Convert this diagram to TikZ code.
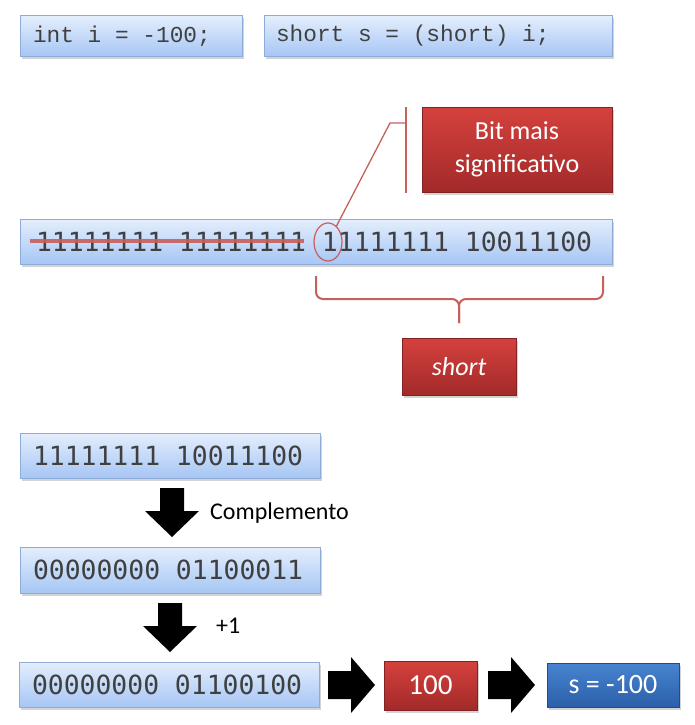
\documentclass[tikz,border=0pt]{standalone}
\usepackage{fontspec}
\setmainfont{Carlito}
\newfontfamily\codefont{Liberation Mono}
\newfontfamily\bitfont{DejaVu Sans Mono}
\usetikzlibrary{shadows,shapes.geometric}
\newcommand\msp{\hspace*{0.6em}}
\definecolor{bluetop}{HTML}{E4EEFD}
\definecolor{bluebot}{HTML}{A6C6F4}
\definecolor{boxedge}{HTML}{8FACD9}
\definecolor{codetext}{HTML}{404040}
\definecolor{redtop}{HTML}{D5413D}
\definecolor{redbot}{HTML}{A22A2A}
\definecolor{bluetopd}{HTML}{4784D0}
\definecolor{bluebotd}{HTML}{2C5FA9}
\definecolor{callred}{HTML}{C75F5B}
\tikzset{
  shadowed/.style={drop shadow={opacity=0.35,shadow xshift=1.5pt,shadow yshift=-2.5pt}},
  bluebox/.style={draw=boxedge, line width=0.8pt, top color=bluetop, bottom color=bluebot,
    shadowed, text=codetext, align=left, inner ysep=0pt},
  redbox/.style={draw=redbot!80!black, line width=0.5pt, top color=redtop, bottom color=redbot,
    shadowed, text=white, align=center, inner sep=0pt, font=\fontsize{26}{33}\selectfont},
  darkbluebox/.style={draw=bluebotd!80!black, line width=0.5pt, top color=bluetopd, bottom color=bluebotd,
    shadowed, text=white, align=center, inner sep=0pt, font=\fontsize{28}{33}\selectfont},
  codefnt/.style={font=\codefont\fontsize{22.8}{26}\selectfont},
  bitfnt/.style={font=\bitfont\fontsize{26.4}{30}\selectfont},
  callline/.style={draw=callred, line width=1.3pt},
  bracestyle/.style={draw=callred, line width=2pt, rounded corners=7pt},
  lbl/.style={font=\fontsize{24}{28}\selectfont, text=black, inner sep=0pt, anchor=west},
  downarr/.pic={\fill[black] (-12,0) -- (12,0) -- (12,23) -- (27,23) -- (0,49) -- (-27,23) -- (-12,23) -- cycle;},
  rightarr/.pic={\fill[black] (0,-14) -- (23,-14) -- (23,-28) -- (47,0) -- (23,28) -- (23,14) -- (0,14) -- cycle;}
}
\begin{document}
\begin{tikzpicture}[x=1pt,y=-1pt]
\useasboundingbox (0,0) rectangle (695,725);
% top code boxes
\node[bluebox, codefnt, minimum height=41pt, text width=196pt, inner xsep=13pt] (b1) at (131,36) {int\msp i\msp =\msp -100;};
\node[bluebox, codefnt, minimum height=41pt, text width=324pt, inner xsep=12pt] (b2) at (438,36) {short\msp s\msp =\msp (short)\msp i;};
% long int box
\node[bluebox, bitfnt, minimum height=45pt, text width=560pt, inner xsep=16pt] (long) at (316,241.5) {11111111\msp 11111111\msp 11111111\msp 10011100};
\draw[draw=callred, opacity=0.9, line width=4pt] (30,241) coordinate (s1) -- (304,241) coordinate (s2);
\node[draw=callred, line width=1.2pt, ellipse, minimum width=28pt, minimum height=38pt, inner sep=0pt] (msb) at (328,242) {};
% callout
\node[redbox, minimum width=190pt, minimum height=85pt] (call) at (517,149.5) {Bit mais\\significativo};
\coordinate (ct) at (406,107);
\coordinate (cb) at (406,193);
\coordinate (ck) at (390,123);
\coordinate (cj) at (406,123);
\draw[callline] (ct) -- (cb);
\draw[callline] (msb.62) -- (ck) -- (cj);
% brace
\coordinate (brl) at (316,276);
\coordinate (brr) at (603,276);
\coordinate (brm) at (459,299);
\coordinate (brt) at (459,323);
\draw[bracestyle] (brl) |- (brm) -- (brt);
\draw[bracestyle] (brr) |- (brm) -- (brt);
\node[redbox, minimum width=114pt, minimum height=57pt] (short) at (459,366.5) {\itshape short};
% steps
\node[bluebox, bitfnt, minimum height=45pt, text width=274pt, inner xsep=13pt] (bA) at (170,455.5) {11111111\msp 10011100};
\pic at (172,488) {downarr};
\node[lbl] (comp) at (210,513) {Complemento};
\node[bluebox, bitfnt, minimum height=46pt, text width=274pt, inner xsep=13pt] (bB) at (170,570) {00000000\msp 01100011};
\pic at (170,603) {downarr};
\node[lbl] (plus) at (216,626) {+1};
\node[bluebox, bitfnt, minimum height=45pt, text width=274pt, inner xsep=13pt] (bC) at (169,684.5) {00000000\msp 01100100};
\pic at (328,685) {rightarr};
\node[redbox, font=\fontsize{29}{33}\selectfont, minimum width=93pt, minimum height=49pt] (hund) at (430.5,685.5) {100};
\pic at (488,685) {rightarr};
\node[darkbluebox, minimum width=132pt, minimum height=44pt] (res) at (613,685) {s = -100};
\end{tikzpicture}
\end{document}
